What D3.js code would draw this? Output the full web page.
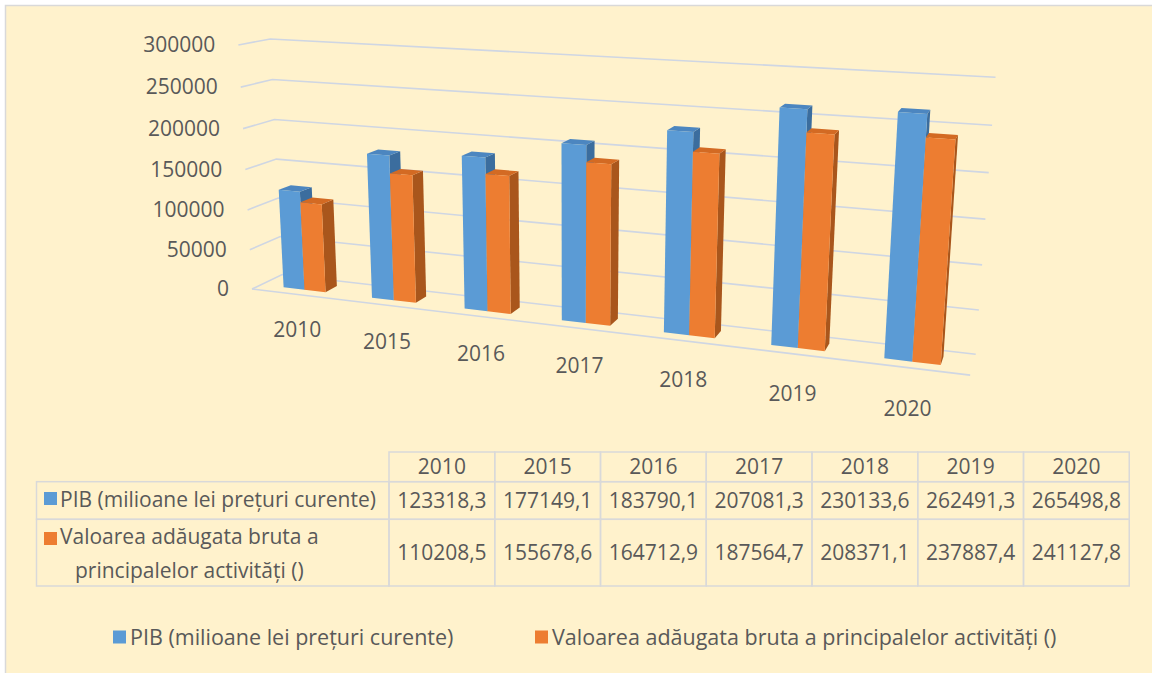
<!DOCTYPE html>
<html>
<head>
<meta charset="utf-8">
<script src="https://cdn.jsdelivr.net/npm/d3@7"></script>
<style>
  body { margin: 0; background: #fff; }
  text { font-family: "Open Sans", "Noto Sans", sans-serif; fill: #595959; }
</style>
</head>
<body>
<div id="chart"></div>
<script>
// data
var years = ["2010", "2015", "2016", "2017", "2018", "2019", "2020"];
var seriesNames = ["PIB (milioane lei prețuri curente)", "Valoarea adăugata bruta a principalelor activități ()"];
var pib = [123318.3, 177149.1, 183790.1, 207081.3, 230133.6, 262491.3, 265498.8];
var vab = [110208.5, 155678.6, 164712.9, 187564.7, 208371.1, 237887.4, 241127.8];
var yTicks = [0, 50000, 100000, 150000, 200000, 250000, 300000];
var colors = ["#5b9bd5", "#ed7d31"];
var topColors = ["#4c86c0", "#d36a23"];
var sideColors = ["#3b6d9e", "#a9561c"];

var svgWidth = 1152;
var svgHeight = 673;

var svg = d3.select("#chart")
  .append("svg")
  .attr("width", svgWidth)
  .attr("height", svgHeight);

// chart area with cream fill and grey frame
svg.append("rect")
  .attr("x", 5.5)
  .attr("y", 5.5)
  .attr("width", svgWidth + 10)
  .attr("height", svgHeight + 10)
  .attr("fill", "#fff2cc")
  .attr("stroke", "#d9d9d9")
  .attr("stroke-width", 1.5);

// 3d box size in world units
var boxW = 513.5;
var boxH = 179.2;
var boxD = 40;

// camera: focal length, centre, rotations, and where world origin lands on screen
var cam = { f: 1363, cx: 622, cy: 196, yaw: 18.8, pitch: 13.2, roll: 0.5, dist: 1000, ox: 252, oy: 289 };

function makeProjector(c) {
  var a = c.yaw * Math.PI / 180, b = c.pitch * Math.PI / 180, g = c.roll * Math.PI / 180;
  var ax = [Math.cos(a), Math.sin(a) * Math.sin(b), -Math.sin(a) * Math.cos(b)];
  var ay = [0, -Math.cos(b), -Math.sin(b)];
  var az = [Math.sin(a), -Math.cos(a) * Math.sin(b), Math.cos(a) * Math.cos(b)];
  function roll(v) {
    return [v[0] * Math.cos(g) - v[1] * Math.sin(g), v[0] * Math.sin(g) + v[1] * Math.cos(g), v[2]];
  }
  ax = roll(ax); ay = roll(ay); az = roll(az);
  var t = [(c.ox - c.cx) / c.f * c.dist, (c.oy - c.cy) / c.f * c.dist, c.dist];
  return function(x, y, z) {
    var X = t[0] + x * ax[0] + y * ay[0] + z * az[0];
    var Y = t[1] + x * ax[1] + y * ay[1] + z * az[1];
    var Z = t[2] + x * ax[2] + y * ay[2] + z * az[2];
    return [c.cx + c.f * X / Z, c.cy + c.f * Y / Z];
  };
}
var project = makeProjector(cam);

// scales
var xScale = d3.scaleBand().domain(years).range([0, boxW]);
var bw = xScale.bandwidth();
var xSub = d3.scaleBand().domain([0, 1]).range([0.26 * bw, 0.74 * bw]);
var yScale = d3.scaleLinear().domain([0, 300000]).range([0, boxH]);
var barZ0 = 12, barZ1 = 28;

var line = d3.line();
var plot = svg.append("g");

// gridlines on side wall and back wall
plot.selectAll(".grid")
  .data(yTicks)
  .enter()
  .append("path")
  .attr("class", "grid")
  .attr("d", function(t) {
    var h = yScale(t);
    return line([project(0, h, 0), project(0, h, boxD), project(boxW, h, boxD)]);
  })
  .attr("fill", "none")
  .attr("stroke", "#cfd6e3")
  .attr("stroke-width", 1.6);

// front edge of the floor
plot.append("path")
  .attr("d", line([project(0, 0, 0), project(boxW, 0, 0)]))
  .attr("fill", "none")
  .attr("stroke", "#cfd6e3")
  .attr("stroke-width", 1.6);

// y labels
plot.selectAll(".ylabel")
  .data(yTicks)
  .enter()
  .append("text")
  .attr("class", "ylabel")
  .attr("x", function(t) { return project(0, yScale(t), 0)[0] - 23; })
  .attr("y", function(t) { return project(0, yScale(t), 0)[1]; })
  .attr("dy", "0.35em")
  .attr("text-anchor", "end")
  .style("font-size", "21px")
  .text(d3.format("d"));

// x labels
plot.selectAll(".xlabel")
  .data(years)
  .enter()
  .append("text")
  .attr("class", "xlabel")
  .attr("x", function(d) { return project(xScale(d) + bw / 2, -27, 0)[0]; })
  .attr("y", function(d) { return project(xScale(d) + bw / 2, -27, 0)[1]; })
  .attr("dy", "0.35em")
  .attr("text-anchor", "middle")
  .style("font-size", "21px")
  .text(function(d) { return d; });

// bars, drawn left to right so nearer ones cover farther ones
var bars = [];
years.forEach(function(yr, i) {
  [pib[i], vab[i]].forEach(function(v, s) {
    bars.push({ year: yr, s: s, value: v });
  });
});

function face(pts) {
  return line(pts.map(function(p) { return project(p[0], p[1], p[2]); })) + "Z";
}

var barG = plot.selectAll(".bar")
  .data(bars)
  .enter()
  .append("g")
  .attr("class", "bar");

barG.each(function(d) {
  var g = d3.select(this);
  var x0 = xScale(d.year) + xSub(d.s);
  var x1 = x0 + xSub.bandwidth();
  var h = yScale(d.value);
  // right side
  g.append("path")
    .attr("d", face([[x1, 0, barZ0], [x1, 0, barZ1], [x1, h, barZ1], [x1, h, barZ0]]))
    .attr("fill", sideColors[d.s]);
  // top
  g.append("path")
    .attr("d", face([[x0, h, barZ0], [x1, h, barZ0], [x1, h, barZ1], [x0, h, barZ1]]))
    .attr("fill", topColors[d.s]);
  // front
  g.append("path")
    .attr("d", face([[x0, 0, barZ0], [x1, 0, barZ0], [x1, h, barZ0], [x0, h, barZ0]]))
    .attr("fill", colors[d.s]);
});

// data table
var fmt = d3.formatLocale({ decimal: ",", thousands: "", grouping: [3], currency: ["", ""] }).format(".1f");
var tableLeft = 36.5, colStart = 389, colW = 105.75;
var rowTops = [452, 481.7, 519.3, 586];
var table = svg.append("g");
var gridStroke = "#d9d9d9";
var tableFont = "21px";

// header cells
table.selectAll(".hcell")
  .data(years)
  .enter()
  .append("rect")
  .attr("x", function(d, i) { return colStart + i * colW; })
  .attr("y", rowTops[0])
  .attr("width", colW)
  .attr("height", rowTops[1] - rowTops[0])
  .attr("fill", "none")
  .attr("stroke", gridStroke)
  .attr("stroke-width", 1.5);

table.selectAll(".htext")
  .data(years)
  .enter()
  .append("text")
  .attr("x", function(d, i) { return colStart + (i + 0.5) * colW; })
  .attr("y", (rowTops[0] + rowTops[1]) / 2)
  .attr("dy", "0.35em")
  .attr("text-anchor", "middle")
  .style("font-size", tableFont)
  .text(function(d) { return d; });

[pib, vab].forEach(function(vals, s) {
  var top = rowTops[s + 1], bot = rowTops[s + 2];
  var mid = (top + bot) / 2;
  table.append("rect")
    .attr("x", tableLeft)
    .attr("y", top)
    .attr("width", colStart - tableLeft)
    .attr("height", bot - top)
    .attr("fill", "none")
    .attr("stroke", gridStroke)
    .attr("stroke-width", 1.5);
  table.selectAll(".vcell" + s)
    .data(vals)
    .enter()
    .append("rect")
    .attr("x", function(d, i) { return colStart + i * colW; })
    .attr("y", top)
    .attr("width", colW)
    .attr("height", bot - top)
    .attr("fill", "none")
    .attr("stroke", gridStroke)
    .attr("stroke-width", 1.5);
  table.selectAll(".vtext" + s)
    .data(vals)
    .enter()
    .append("text")
    .attr("x", function(d, i) { return colStart + (i + 0.5) * colW; })
    .attr("y", mid)
    .attr("dy", "0.35em")
    .attr("text-anchor", "middle")
    .style("font-size", tableFont)
    .text(fmt);
});

// row labels with legend keys
table.append("rect").attr("x", 44).attr("y", 492).attr("width", 13).attr("height", 13).attr("fill", colors[0]);
table.append("text").attr("x", 60).attr("y", 500).attr("dy", "0.35em")
  .style("font-size", tableFont).text(seriesNames[0]);

table.append("rect").attr("x", 44).attr("y", 532).attr("width", 13).attr("height", 13).attr("fill", colors[1]);
var l1 = table.append("text").attr("x", 60).attr("y", 537).attr("dy", "0.35em")
  .style("font-size", tableFont).text("Valoarea adăugata bruta a");
var l1w = l1.node().getComputedTextLength();
table.append("text").attr("x", 60 + l1w / 2).attr("y", 571).attr("dy", "0.35em")
  .attr("text-anchor", "middle")
  .style("font-size", tableFont).text("principalelor activități ()");

// legend
var legendX = [113, 535];
var legend = svg.selectAll(".legend")
  .data(seriesNames)
  .enter()
  .append("g")
  .attr("class", "legend")
  .attr("transform", function(d, i) { return "translate(" + legendX[i] + ", 637)"; });

legend.append("rect")
  .attr("x", 0)
  .attr("y", -6.5)
  .attr("width", 13)
  .attr("height", 13)
  .attr("fill", function(d, i) { return colors[i]; });

legend.append("text")
  .attr("x", 17)
  .attr("y", 0)
  .attr("dy", "0.35em")
  .style("font-size", "21.5px")
  .text(function(d) { return d; });
</script>
</body>
</html>
